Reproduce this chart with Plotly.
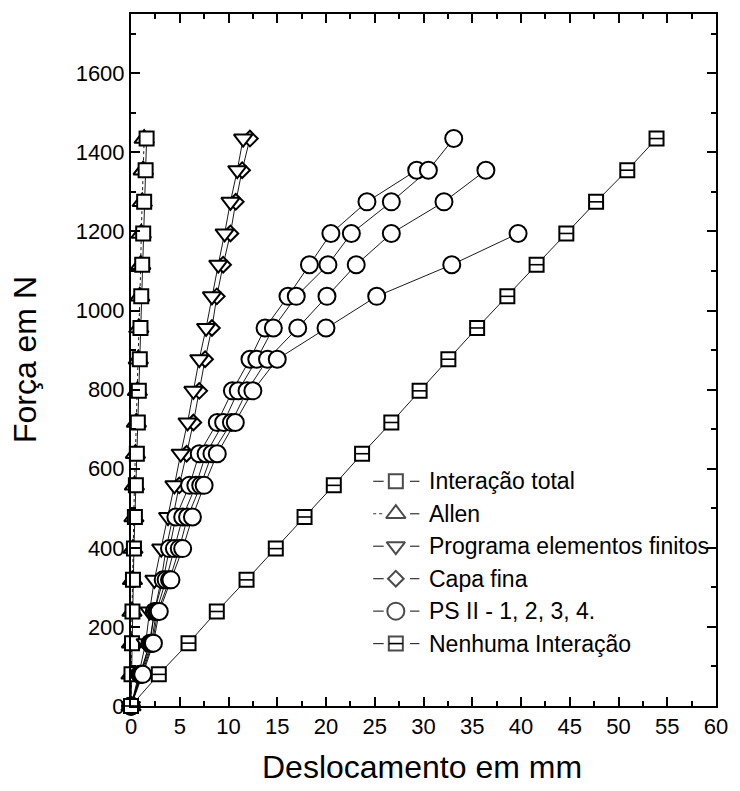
import plotly.graph_objects as go

# Applied load levels (N)
loads = [0, 80, 159, 239, 319, 398, 478, 558, 638, 717, 797, 877, 956,
         1036, 1116, 1195, 1275, 1355, 1435]

# Displacements (mm) for each model
interacao_total = [0, 0.05, 0.1, 0.15, 0.2, 0.3, 0.4, 0.5, 0.6, 0.7, 0.8,
                   0.9, 0.97, 1.05, 1.15, 1.25, 1.35, 1.5, 1.6]
allen = [0, 0.0, 0.05, 0.1, 0.15, 0.2, 0.3, 0.35, 0.45, 0.55, 0.65, 0.75,
         0.8, 0.9, 1.0, 1.05, 1.15, 1.25, 1.35]
elementos_finitos = [0, 0.8, 1.5, 1.9, 2.4, 3.1, 3.8, 4.45, 5.1, 5.8, 6.4,
                     7.0, 7.7, 8.3, 8.95, 9.6, 10.2, 10.9, 11.5]
capa_fina = [0, 1.0, 1.9, 2.4, 3.1, 3.6, 4.3, 4.95, 5.7, 6.4, 7.0, 7.6,
             8.3, 8.8, 9.45, 10.2, 10.75, 11.4, 12.2]
ps2_1 = [0, 0.9, 1.95, 2.4, 3.3, 3.95, 4.6, 6.0, 7.0, 8.85, 10.4, 12.2,
         13.75, 16.1, 18.3, 20.5, 24.2, 29.3]
ps2_2 = [0, 1.0, 2.1, 2.6, 3.6, 4.45, 5.3, 6.65, 7.7, 9.5, 11.0, 12.9,
         14.6, 16.95, 20.2, 22.6, 26.7, 30.5, 33.1]
ps2_3 = [0, 1.1, 2.2, 2.75, 3.95, 4.95, 5.8, 7.15, 8.3, 10.3, 11.9, 14.0,
         17.1, 20.1, 23.1, 26.7, 32.1, 36.4]
ps2_4 = [0, 1.2, 2.3, 2.9, 4.1, 5.3, 6.3, 7.5, 8.85, 10.7, 12.5, 15.0,
         20.0, 25.2, 32.9, 39.7]
nenhuma = [0, 2.85, 5.9, 8.8, 11.85, 14.85, 17.8, 20.8, 23.7, 26.7, 29.6,
           32.55, 35.5, 38.6, 41.6, 44.65, 47.7, 50.9, 53.9]

legend_labels = ["Interação total", "Allen", "Programa elementos finitos",
                 "Capa fina", "PS II - 1, 2, 3, 4.", "Nenhuma Interação"]

FONT = "Liberation Sans, Arial, Helvetica, sans-serif"
BLACK = "black"
MLW = 2.0


def series(x, y, symbol, size, dash="solid"):
    return go.Scatter(
        x=x, y=y, mode="lines+markers", cliponaxis=False,
        line=dict(color=BLACK, width=0.9, dash=dash),
        marker=dict(symbol=symbol, size=size, color="white",
                    line=dict(color=BLACK, width=MLW)),
        hoverinfo="x+y",
    )


fig = go.Figure()
# drawing order: later traces sit on top
fig.add_trace(series(allen, loads, "triangle-up", 17, "dot"))
fig.add_trace(series(interacao_total, loads, "square", 14))
fig.add_trace(series(capa_fina, loads[:len(capa_fina)], "diamond", 12))
fig.add_trace(series(elementos_finitos, loads, "triangle-down", 16))
for ps in (ps2_1, ps2_2, ps2_3, ps2_4):
    fig.add_trace(series(ps, loads[:len(ps)], "circle", 17))
fig.add_trace(series(nenhuma, loads, "square", 14))
# horizontal bar inside the "no interaction" squares
fig.add_trace(go.Scatter(
    x=nenhuma, y=loads, mode="markers", cliponaxis=False, hoverinfo="skip",
    marker=dict(symbol="line-ew", size=10, color=BLACK,
                line=dict(color=BLACK, width=1.6)),
))

# ---- hand-built legend (paper fractions of the plot area) ----
leg_rows = [0.3247, 0.2778, 0.2309, 0.1840, 0.1371, 0.0902]
leg_symbols = ["square", "triangle-up", "triangle-down", "diamond", "circle", "square"]
leg_sizes = [14, 17, 16, 12, 17, 14]
key_x = 0.4527
fig.add_trace(go.Scatter(
    x=[key_x] * len(leg_rows), y=leg_rows, xaxis="x2", yaxis="y2",
    mode="markers", cliponaxis=False, hoverinfo="skip",
    marker=dict(symbol=leg_symbols, size=leg_sizes, color="white",
                line=dict(color=BLACK, width=MLW)),
))
fig.add_trace(go.Scatter(
    x=[key_x], y=[leg_rows[5]], xaxis="x2", yaxis="y2",
    mode="markers", cliponaxis=False, hoverinfo="skip",
    marker=dict(symbol="line-ew", size=10, color=BLACK,
                line=dict(color=BLACK, width=1.6)),
))

shapes = []
for i, yy in enumerate(leg_rows):
    left_dash = "dot" if i == 1 else "solid"
    shapes.append(dict(type="line", xref="paper", yref="paper",
                       x0=0.414, x1=0.432, y0=yy, y1=yy,
                       line=dict(color="#333", width=1.2, dash=left_dash)))
    shapes.append(dict(type="line", xref="paper", yref="paper",
                       x0=0.477, x1=0.493, y0=yy, y1=yy,
                       line=dict(color="#333", width=1.2)))

annotations = []
for lab, yy in zip(legend_labels, leg_rows):
    annotations.append(dict(text=lab, xref="paper", yref="paper", x=0.506, y=yy,
                            xanchor="left", yanchor="middle", showarrow=False,
                            font=dict(family=FONT, size=23, color=BLACK)))
annotations.append(dict(text="Deslocamento em mm", xref="paper", yref="paper",
                        x=0.497, y=-0.088, xanchor="center", yanchor="middle",
                        showarrow=False, font=dict(family=FONT, size=32, color=BLACK)))
annotations.append(dict(text="Força em N", xref="paper", yref="paper",
                        x=-0.181, y=0.5, xanchor="center", yanchor="middle",
                        textangle=-90, showarrow=False,
                        font=dict(family=FONT, size=32, color=BLACK)))

axis_common = dict(
    showgrid=False, zeroline=False, showline=True, linecolor=BLACK, linewidth=2,
    mirror="ticks", ticks="inside", ticklen=9, tickwidth=1.5, tickcolor=BLACK,
    tickfont=dict(family=FONT, size=22, color=BLACK),
)

fig.update_layout(
    width=740, height=791,
    margin=dict(l=131, r=17, t=13, b=85),
    plot_bgcolor="white", paper_bgcolor="white",
    showlegend=False,
    font=dict(family=FONT, color=BLACK),
    xaxis=dict(range=[0, 60], tick0=0, dtick=5,
               minor=dict(dtick=2.5, ticks="inside", ticklen=5, tickwidth=1.5,
                          tickcolor=BLACK),
               **axis_common),
    yaxis=dict(range=[0, 1750], tick0=0, dtick=200,
               minor=dict(dtick=100, ticks="inside", ticklen=5, tickwidth=1.5,
                          tickcolor=BLACK),
               **axis_common),
    xaxis2=dict(overlaying="x", range=[0, 1], visible=False, fixedrange=True),
    yaxis2=dict(overlaying="y", range=[0, 1], visible=False, fixedrange=True),
    shapes=shapes,
    annotations=annotations,
)

fig.write_html("out.html")
